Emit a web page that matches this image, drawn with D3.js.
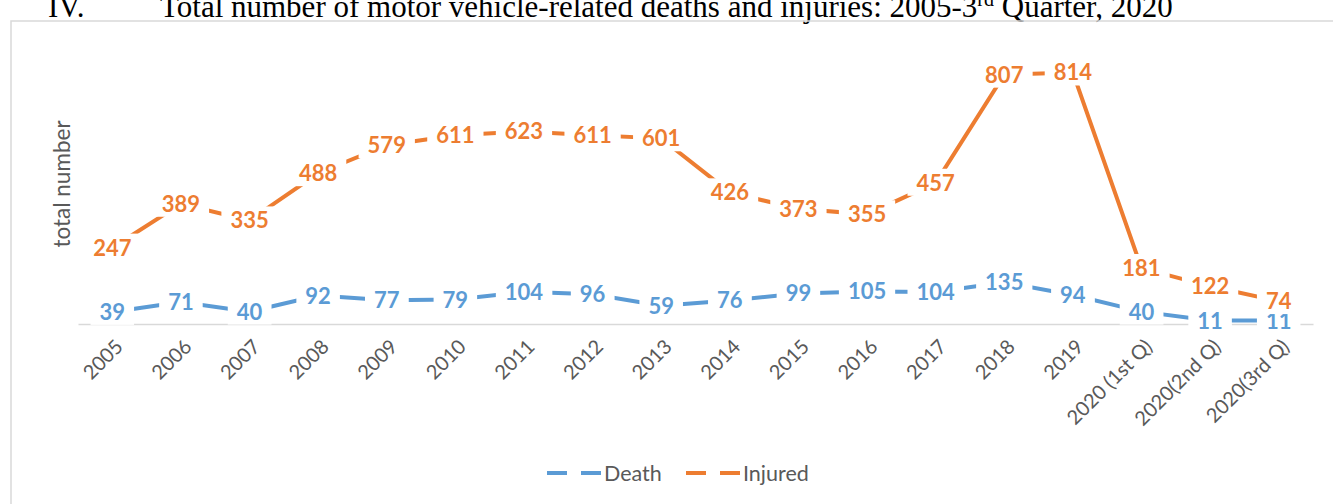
<!DOCTYPE html>
<html><head><meta charset="utf-8">
<script src="https://cdn.jsdelivr.net/npm/d3@7"></script>
<style>body{margin:0;background:#fff;overflow:hidden}svg{display:block}</style>
</head><body>
<svg id="c" width="1333" height="504"></svg>
<script>
const categories = ["2005","2006","2007","2008","2009","2010","2011","2012","2013","2014","2015","2016","2017","2018","2019","2020 (1st Q)","2020(2nd Q)","2020(3rd Q)"];
const death = [39,71,40,92,77,79,104,96,59,76,99,105,104,135,94,40,11,11];
const injured = [247,389,335,488,579,611,623,611,601,426,373,355,457,807,814,181,122,74];
const seriesNames = ["Death","Injured"];
const colors = ["#5b9bd5","#ed7d31"];
const yAxisTitle = "total number";

const svg = d3.select("#c");
const FONT = "Lato, 'Open Sans', sans-serif";

// title (cut off at top)
const title = svg.append("text").attr("y", 17).attr("font-family","'Liberation Serif', 'Times New Roman', serif").attr("font-size", 31).attr("fill","#000");
title.append("tspan").attr("x", 48).text("IV.");
title.append("tspan").attr("x", 160).text("Total number of motor vehicle-related deaths and injuries: 2005-3");
title.append("tspan").attr("dy", -11).attr("font-size", 20).text("rd");
title.append("tspan").attr("dy", 11).text(" Quarter, 2020");

// chart border
svg.append("rect").attr("x", 11).attr("y", 21).attr("width", 1340).attr("height", 520)
  .attr("fill","none").attr("stroke","#d9d9d9").attr("stroke-width", 1.5);

const x = d3.scaleBand().domain(categories).range([78, 1313]);
const y = d3.scaleLinear().domain([0, 900]).range([324, 46]);

// baseline gridline / axis
const xAxis = d3.axisBottom(x).tickSize(0).tickFormat("");
const gx = svg.append("g").attr("transform", `translate(0,${y(0)})`).call(xAxis);
gx.select(".domain").attr("stroke","#d9d9d9").attr("stroke-width",1.5);

// tick labels
svg.append("g").selectAll("text").data(categories).join("text")
  .attr("transform", d => `translate(${x(d) + x.bandwidth()/2 + 7},${y(0) + 19}) rotate(-45)`)
  .attr("text-anchor","end").attr("dy","0.35em")
  .attr("font-family", FONT).attr("font-size", 20).attr("fill","#595959")
  .text(d => d);

// y axis title
svg.append("text").attr("transform", `translate(70,184) rotate(-90)`)
  .attr("text-anchor","middle").attr("font-family", FONT).attr("font-size", 22.5).attr("fill","#595959")
  .text(yAxisTitle);

const series = [death, injured];
const line = d3.line().x((d,i) => x(categories[i]) + x.bandwidth()/2).y(d => y(d));
series.forEach((s, k) => {
  svg.append("path").datum(s).attr("d", line).attr("fill","none")
    .attr("stroke", colors[k]).attr("stroke-width", 4);
});

// data labels with white background
series.forEach((s, k) => {
  const g = svg.append("g");
  s.forEach((v, i) => {
    const cx = x(categories[i]) + x.bandwidth()/2, cy = y(v);
    const t = g.append("text").attr("x", cx).attr("y", cy).attr("dy","0.36em")
      .attr("text-anchor","middle").attr("font-family", FONT).attr("font-weight","bold")
      .attr("font-size", 22).attr("fill", colors[k]).text(v);
    const bb = t.node().getBBox();
    g.insert("rect", () => t.node()).attr("x", bb.x - 9).attr("y", bb.y)
      .attr("width", bb.width + 18).attr("height", bb.height).attr("fill","#fff");
  });
});

// legend
const legend = svg.append("g");
const lx = [547, 686];
seriesNames.forEach((n, k) => {
  legend.append("line").attr("x1", lx[k]).attr("x2", lx[k] + 54).attr("y1", 473).attr("y2", 473)
    .attr("stroke", colors[k]).attr("stroke-width", 4).attr("stroke-dasharray","20,14");
  legend.append("text").attr("x", lx[k] + 57).attr("y", 473).attr("dy","0.35em")
    .attr("font-family", FONT).attr("font-size", 21.5).attr("fill","#595959").text(n);
});
</script>
</body></html>
